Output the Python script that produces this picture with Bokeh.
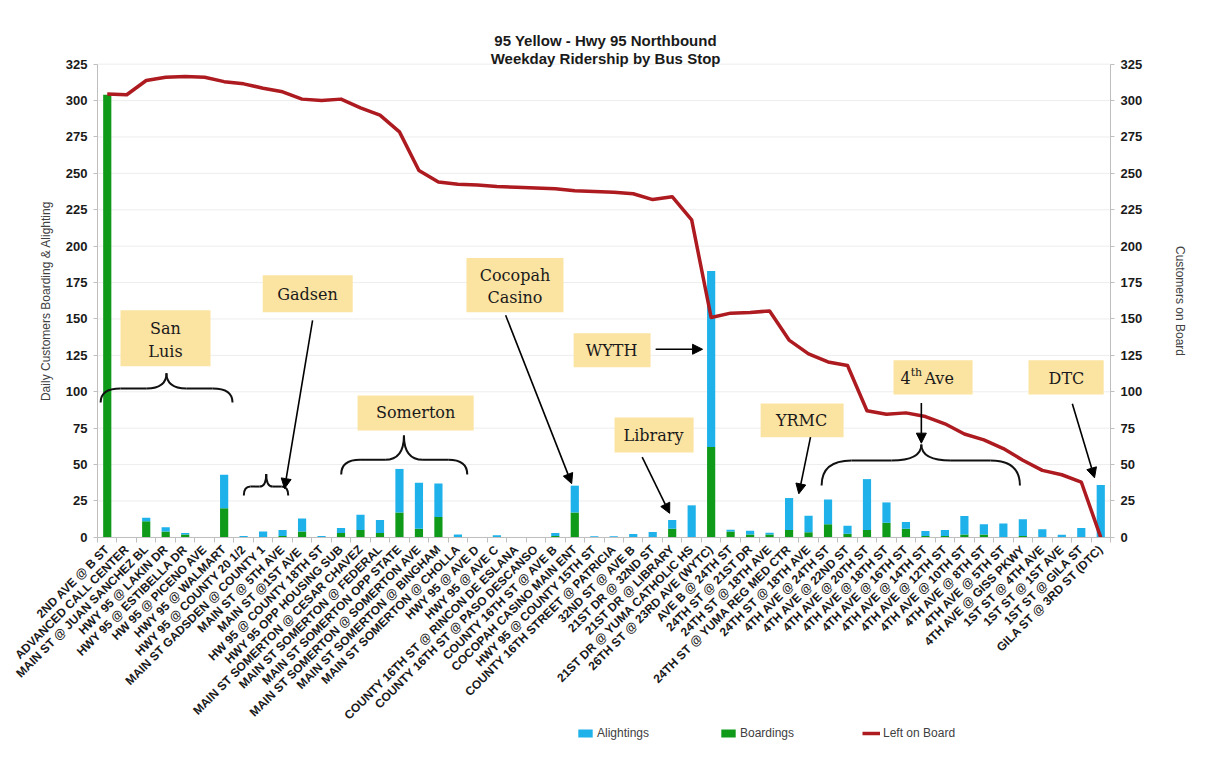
from math import pi
from bokeh.plotting import figure
from bokeh.models import (ColumnDataSource, FixedTicker, LinearAxis, Range1d,
                          Legend, LegendItem, BoxAnnotation, Arrow, NormalHead, Label)
from bokeh.embed import file_html
from bokeh.resources import INLINE

title_lines = ["95 Yellow - Hwy 95 Northbound", "Weekday Ridership by Bus Stop"]

stops = [
    "2ND AVE @ B ST", "ADVANCED CALL CENTER", "MAIN ST @ JUAN SANCHEZ BL", "HWY 95 @ LAKIN DR",
    "HWY 95 @ ESTIBELLA DR", "HW 95 @ PICENO AVE", "HWY 95 @ WALMART", "HWY 95 @ COUNTY 20 1/2",
    "MAIN ST GADSDEN @ COUNTY 1", "MAIN ST @ 5TH AVE", "MAIN ST  @1ST AVE", "HW 95 @ COUNTY 18TH ST",
    "HWY 95 OPP HOUSING SUB", "MAIN ST SOMERTON @ CESAR CHAVEZ", "MAIN ST SOMERTON @ FEDERAL",
    "MAIN ST SOMERTON OPP STATE", "MAIN ST SOMERTON @ SOMERTON AVE", "MAIN ST SOMERTON @ BINGHAM",
    "MAIN ST SOMERTON @ CHOLLA", "HWY 95 @ AVE D", "HWY 95 @ AVE C", "COUNTY 16TH ST @ RINCON DE ESLANA",
    "COUNTY 16TH ST @ PASO DESCANSO", "COUNTY 16TH ST @ AVE B", "COCOPAH CASINO MAIN ENT",
    "HWY 95 @ COUNTY 15TH ST", "COUNTY 16TH STREET @ PATRICIA", "32ND ST @ AVE B", "21ST DR @ 32ND ST",
    "21ST DR @ LIBRARY", "21ST DR @ YUMA CATHOLIC HS", "26TH ST @ 23RD AVE (WYTC)", "AVE B @ 24TH ST",
    "24TH ST @ 21ST DR", "24TH ST @ 18TH AVE", "24TH ST @ YUMA REG MED CTR", "24TH ST @ 18TH AVE",
    "4TH AVE @ 24TH ST", "4TH AVE @ 22ND ST", "4TH AVE @ 20TH ST", "4TH AVE @ 18TH ST",
    "4TH AVE @ 16TH ST", "4TH AVE @ 14TH ST", "4TH AVE @ 12TH ST", "4TH AVE @ 10TH ST",
    "4TH AVE @ 8TH ST", "4TH AVE @ 5TH ST", "4TH AVE @ GISS PKWY", "1ST ST @ 4TH AVE",
    "1ST ST @ 1ST AVE", "1ST ST @ GILA ST", "GILA ST @ 3RD ST (DTC)",
]

boardings = [304, 0, 11, 4, 2, 0, 20, 0, 0, 1, 4, 0, 3, 5, 3, 17, 6, 14, 0, 0, 0, 0, 0, 1, 17, 0,
             0, 0, 0, 6, 0, 62, 4, 2, 2, 5, 3.5, 9, 2.5, 5, 10, 6, 1, 1, 2, 2, 0, 1, 0, 0, 0, 0]

alightings = [0, 0, 2.5, 3, 1, 0, 23, 1, 4, 4, 9, 1, 3.5, 10.5, 9, 30, 31.5, 23, 2, 0, 1.5, 0, 0, 2,
              18.5, 0.7, 0.7, 2.3, 3.7, 6, 22, 121, 1.3, 2.5, 1.2, 22, 11.3, 17, 5.5, 35, 14, 4.5,
              3.3, 4, 12.7, 7, 9.6, 11.4, 5.5, 1.8, 6.5, 36]

left_on_board = [304.5, 304, 313.8, 316, 316.5, 316, 313, 311.5, 308.5, 306, 301, 300, 301, 295,
                 290, 278.5, 252, 244, 242.5, 242, 241, 240.5, 240, 239.5, 238, 237.5, 237, 236,
                 232, 234, 218, 151, 154, 154.5, 155.5, 135.5, 126, 120.5, 118, 87, 84.5, 85.5, 83,
                 78, 71, 67, 61, 53, 46, 43, 38, 0]

y_ticks = list(range(0, 326, 25))

GREEN = "#0f9a1a"
BLUE = "#1eb1ea"
RED = "#ad1a1f"
BOX = "#fbe3a2"
SANS = "Liberation Sans"
SERIF = "DejaVu Serif"

N = len(stops)
src = ColumnDataSource(dict(x=list(range(N)), boardings=boardings, alightings=alightings,
                            onboard=left_on_board))

# the frame reaches beyond the 0..325 plotting area on every side, so that the title, the
# slanted stop labels, both value axes and the legend are all drawn inside it
X_LOW = -4.864
X_END = N - 0.5          # right edge of the plotting area
X_HIGH = 56.12
Y_LOW = -151.2
Y_HIGH = 355.0
p = figure(width=1209, height=772, x_range=Range1d(X_LOW, X_HIGH), y_range=Range1d(Y_LOW, Y_HIGH),
           output_backend="svg", toolbar_location=None,
           min_border_left=12, min_border_right=9, min_border_top=20, min_border_bottom=15)
p.extra_y_ranges = {"right": Range1d(Y_LOW, Y_HIGH)}
p.outline_line_color = None
p.background_fill_color = "white"
p.border_fill_color = "white"
p.styles = {"outline": "3px solid #92d050", "outline-offset": "-7px"}

# title (two lines, centred over the plotting area)
for txt, ty in zip(title_lines, (341.3, 328.9)):
    p.add_layout(Label(x=25.58, y=ty, text=txt, text_align="center", text_baseline="middle",
                       text_font=SANS, text_font_size="15px", text_font_style="bold",
                       text_color="#1a1a1a"))

# horizontal gridlines, only across the plotting area
p.segment(x0=[-0.5] * len(y_ticks), x1=[X_END] * len(y_ticks), y0=y_ticks, y1=y_ticks,
          line_color="#ededed", line_width=1)

bars = p.vbar_stack(["boardings", "alightings"], x="x", width=0.42, color=[GREEN, BLUE],
                    line_color=None, source=src)
line = p.line("x", "onboard", source=src, color=RED, line_width=3.5, y_range_name="right",
              line_join="round")

# axes
xa = p.xaxis[0]
xa.fixed_location = 0
xa.bounds = (-0.5, X_END)
xa.ticker = FixedTicker(ticks=list(range(N)), minor_ticks=[i - 0.5 for i in range(N + 1)])
xa.major_label_overrides = {i: s for i, s in enumerate(stops)}
xa.major_label_orientation = pi / 4
xa.major_label_text_font = SANS
xa.major_label_text_font_size = "12px"
xa.major_label_text_font_style = "bold"
xa.major_label_text_color = "#1a1a1a"
xa.major_label_standoff = 4
xa.major_tick_line_color = None
xa.minor_tick_line_color = "#bfbfbf"
xa.minor_tick_out = 5
xa.minor_tick_in = 0
xa.axis_line_color = "#bfbfbf"

ya = p.yaxis[0]
ya.fixed_location = -0.5
ya.axis_label = "Daily Customers Boarding & Alighting"
yr = LinearAxis(y_range_name="right", axis_label="Customers on Board", fixed_location=X_END)
p.add_layout(yr, "right")
for ax in (ya, yr):
    ax.ticker = FixedTicker(ticks=y_ticks)
    ax.bounds = (0, 325)
    ax.major_label_text_font = SANS
    ax.major_label_text_font_size = "13px"
    ax.major_label_text_font_style = "bold"
    ax.major_label_text_color = "#1a1a1a"
    ax.major_tick_line_color = "#bfbfbf"
    ax.major_tick_out = 4
    ax.major_tick_in = 0
    ax.minor_tick_line_color = None
    ax.axis_line_color = "#bfbfbf"
    ax.axis_label_text_font = SANS
    ax.axis_label_text_font_size = "12px"
    ax.axis_label_text_font_style = "normal"
    ax.axis_label_text_color = "#404040"
    ax.major_label_standoff = 6
ya.axis_label_standoff = 10
yr.axis_label_standoff = 28

p.xgrid.grid_line_color = None
p.ygrid.grid_line_color = None

# legend
legend = Legend(items=[LegendItem(label="Alightings", renderers=[bars[1]]),
                       LegendItem(label="Boardings", renderers=[bars[0]]),
                       LegendItem(label="Left on Board", renderers=[line])],
                orientation="horizontal", location=(564, 17), border_line_color=None,
                background_fill_alpha=0, padding=0, margin=0, glyph_width=18, glyph_height=10,
                label_standoff=3, label_width=100, spacing=22, label_text_font=SANS,
                label_text_font_size="12px", label_text_color="#404040")
p.add_layout(legend, "center")

# annotation boxes (data coordinates)
boxes = [
    (0.68, 5.30, 156.0, 117.5),
    (7.98, 12.60, 180.1, 154.7),
    (12.85, 18.81, 97.5, 73.4),
    (18.44, 23.42, 191.8, 154.7),
    (23.94, 27.89, 140.2, 116.8),
    (26.04, 30.10, 82.4, 58.3),
    (33.54, 37.80, 92.0, 68.7),
    (40.36, 44.42, 121.6, 98.2),
    (47.29, 51.15, 121.6, 98.2),
]
for l, r, t, b in boxes:
    p.add_layout(BoxAnnotation(left=l, right=r, top=t, bottom=b, fill_color=BOX, fill_alpha=1,
                               line_color=None, level="annotation"))

texts = [
    ("San", 2.99, 143.6), ("Luis", 2.99, 127.6), ("Gadsen", 10.28, 167.0),
    ("Somerton", 15.83, 85.8), ("Cocopah", 20.93, 180.1), ("Casino", 20.93, 165.0),
    ("WYTH", 25.89, 128.5), ("Library", 28.04, 70.0), ("YRMC", 35.64, 80.3),
    ("DTC", 49.24, 109.2),
]
LBL = dict(text_baseline="middle", text_font=SERIF, text_color="#1a1a1a", level="overlay")
for t, x, y in texts:
    p.add_layout(Label(x=x, y=y, text=t, text_align="center", text_font_size="16px", **LBL))
p.add_layout(Label(x=41.24, y=109.2, text="4", text_align="right", text_font_size="16px", **LBL))
p.add_layout(Label(x=41.24, y=113.5, text="th", text_align="left", text_font_size="11px", **LBL))
p.add_layout(Label(x=41.95, y=109.2, text="Ave", text_align="left", text_font_size="16px", **LBL))

# arrows
arrows = [
    (10.54, 149.0, 9.10, 33.5),
    (20.45, 152.6, 23.84, 36.9),
    (28.15, 129.2, 30.56, 129.2),
    (27.46, 55.1, 28.87, 16.5),
    (36.10, 68.8, 35.50, 29.9),
    (41.79, 92.2, 41.79, 64.7),
    (49.54, 91.8, 50.68, 40.9),
]
for xs0, ys0, xe, ye in arrows:
    p.add_layout(Arrow(end=NormalHead(size=10, fill_color="black", line_color="black"),
                       x_start=xs0, y_start=ys0, x_end=xe, y_end=ye, line_width=1.6,
                       line_color="black"))

# curly braces: (left x, tip x, right x, end y, mid y, tip y)
braces = [
    (-0.34, 3.04, 6.43, 92.7, 102.3, 112.7),
    (7.01, 8.16, 9.29, 28.7, 34.9, 43.6),
    (12.01, 15.23, 18.48, 43.2, 53.3, 70.0),
    (36.67, 41.79, 46.85, 35.6, 52.8, 63.8),
]
for xl, xc, xr, ye, ym, yt in braces:
    for x0, sgn in ((xl, 1), (xr, -1)):
        a = 0.3 * abs(xc - x0)
        p.quadratic(x0=[x0], y0=[ye], x1=[x0 + sgn * a], y1=[ym], cx=[x0], cy=[ym],
                    line_color="#111111", line_width=2)
        p.segment(x0=[x0 + sgn * a], y0=[ym], x1=[xc - sgn * a], y1=[ym],
                  line_color="#111111", line_width=2)
        p.quadratic(x0=[xc - sgn * a], y0=[ym], x1=[xc], y1=[yt], cx=[xc], cy=[ym],
                    line_color="#111111", line_width=2)

open("out.html", "w").write(file_html(p, INLINE))
